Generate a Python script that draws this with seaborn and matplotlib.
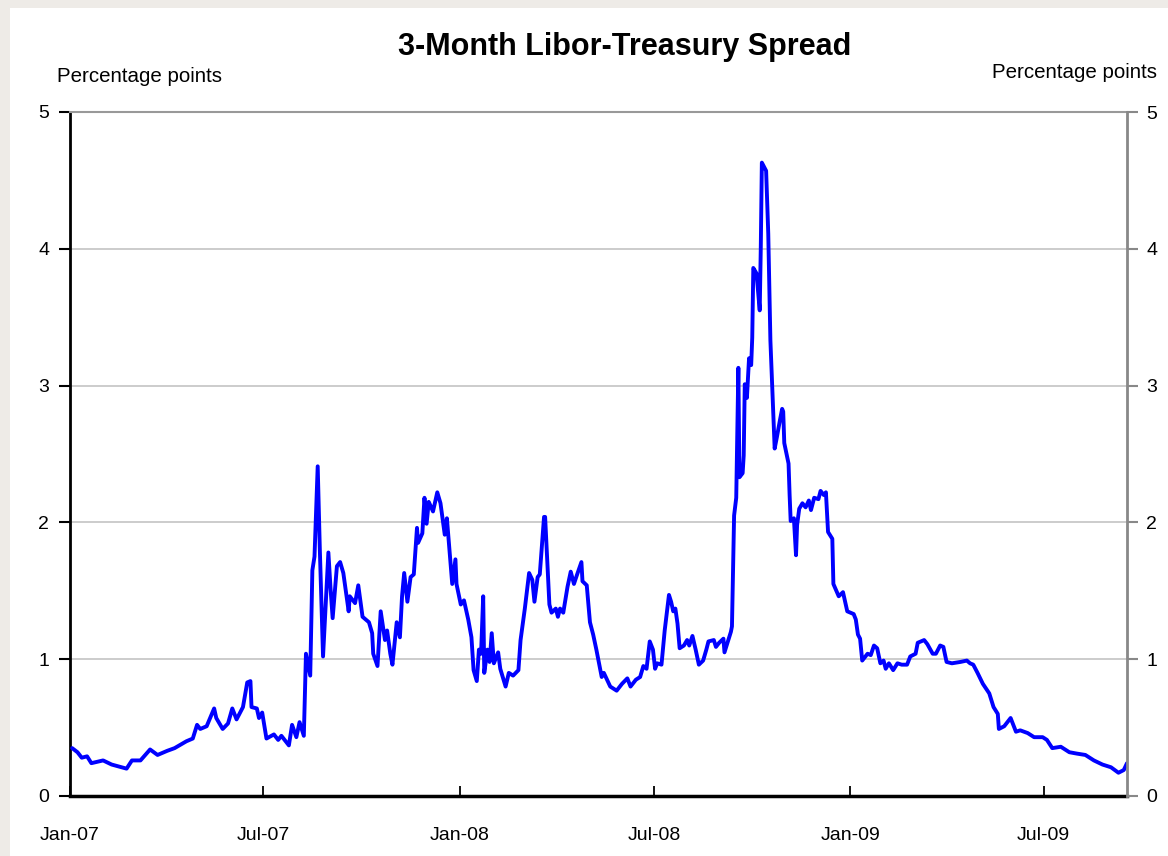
import pandas as pd
import numpy as np
import seaborn as sns
import matplotlib.pyplot as plt
import matplotlib.dates as mdates
from matplotlib.patches import Rectangle

# days after 1 Jan 2007 and the spread (percentage points)
days = [2, 7, 11, 16, 20, 31, 39, 53, 58, 66, 75, 82, 91, 98, 109, 115, 119, 122, 128, 135,
        137, 143, 148, 152, 156, 162, 166, 169, 170, 175, 177, 180, 184, 191, 195, 198, 205, 208, 212, 215,
        219, 221, 225, 227,
        229, 232, 234, 237, 242, 244, 246, 250, 253, 256, 261, 262, 267, 270, 274, 280, 283, 284, 288, 291,
        295, 297, 300, 302, 306, 309, 311, 313, 316, 319, 322, 325, 326, 330, 332, 334, 336, 340, 344, 347,
        351, 353, 358, 361, 362, 366, 369, 373, 376, 378, 381, 383, 385, 387, 388, 391, 393, 395, 397, 401,
        403, 408, 411, 415, 420, 422, 426, 430, 433, 435, 438, 440, 444, 445, 449,
        451, 455, 457, 459, 462, 466, 469, 472, 475, 479, 480, 484, 487, 490, 493, 496, 498, 500, 506, 512,
        517, 522, 525, 530, 534, 537, 540, 543, 546, 548, 550, 554, 557, 561, 563, 565, 567, 569, 571, 575,
        578, 580, 583, 586, 589, 593, 596, 598, 603, 605, 608, 612, 613, 615, 619, 620, 622, 624, 626, 627,
        630, 631, 632, 634, 636, 638, 639, 640, 643, 646, 647, 648, 652, 653, 654, 656, 659, 660, 662, 665,
        667, 668, 669, 673, 674, 675, 678, 680, 681, 683, 686, 689, 692, 694, 697, 701, 703, 706, 708, 710,
        714, 715, 720, 724, 728, 734, 736, 738, 740, 742, 747, 750, 753, 756, 759, 762, 764, 767, 771, 775,
        779, 784, 787, 792, 794, 800, 803, 808, 811, 815, 818, 821, 826, 834, 840, 843, 846, 850, 855, 861,
        865, 869, 870, 875, 881, 886, 890, 897, 903, 911, 915, 920, 928, 936, 943, 951, 959, 967, 975, 982,
        987, 990]

spread = [0.35, 0.32, 0.28, 0.29, 0.24, 0.26, 0.23, 0.20, 0.26, 0.26, 0.34, 0.30, 0.33, 0.35, 0.40, 0.42, 0.52, 0.49, 0.51, 0.64,
          0.57, 0.49, 0.53, 0.64, 0.56, 0.65, 0.83, 0.84, 0.65, 0.64, 0.57, 0.61, 0.42, 0.45, 0.41, 0.44, 0.37, 0.52, 0.43, 0.54,
          0.44, 1.04, 0.88, 1.65,
          1.75, 2.41, 1.80, 1.02, 1.78, 1.52, 1.30, 1.68, 1.71, 1.63, 1.35, 1.46, 1.41, 1.54, 1.31, 1.27, 1.19, 1.04, 0.95, 1.35,
          1.14, 1.21, 1.04, 0.96, 1.27, 1.16, 1.46, 1.63, 1.42, 1.60, 1.62, 1.96, 1.85, 1.92, 2.18, 1.99, 2.15, 2.08, 2.22, 2.14,
          1.91, 2.03, 1.55, 1.73, 1.55, 1.40, 1.43, 1.29, 1.16, 0.92, 0.84, 1.07, 1.04, 1.46, 0.90, 1.07, 0.98, 1.19, 0.97, 1.05,
          0.93, 0.80, 0.90, 0.88, 0.92, 1.14, 1.37, 1.63, 1.58, 1.42, 1.60, 1.62, 2.04, 2.04, 1.40,
          1.34, 1.37, 1.31, 1.37, 1.34, 1.53, 1.64, 1.55, 1.62, 1.71, 1.57, 1.54, 1.27, 1.18, 1.07, 0.95, 0.87, 0.90, 0.80, 0.77,
          0.82, 0.86, 0.80, 0.85, 0.87, 0.95, 0.93, 1.13, 1.07, 0.93, 0.97, 0.96, 1.21, 1.47, 1.42, 1.35, 1.37, 1.26, 1.08, 1.10,
          1.14, 1.10, 1.17, 1.07, 0.96, 0.99, 1.07, 1.13, 1.14, 1.09, 1.12, 1.15, 1.05, 1.10, 1.20, 1.24, 2.05, 2.18, 3.13, 2.33,
          2.36, 2.49, 3.01, 2.91, 3.20, 3.15, 3.35, 3.86, 3.82, 3.55, 4.01, 4.63, 4.57, 4.33, 4.11, 3.33, 2.75, 2.54, 2.62, 2.75,
          2.83, 2.81, 2.58, 2.43, 2.20, 2.01, 2.03, 1.76, 1.98, 2.10, 2.14, 2.11, 2.16, 2.09, 2.18, 2.17, 2.23, 2.20, 2.22, 1.93,
          1.88, 1.55, 1.46, 1.49, 1.35, 1.33, 1.29, 1.18, 1.15, 0.99, 1.04, 1.03, 1.10, 1.08, 0.97, 0.99, 0.93, 0.97, 0.92, 0.97,
          0.96, 0.96, 1.02, 1.04, 1.12, 1.14, 1.11, 1.04, 1.04, 1.10, 1.09, 0.98, 0.97, 0.98, 0.99, 0.97, 0.96, 0.90, 0.82, 0.75,
          0.65, 0.60, 0.49, 0.51, 0.57, 0.47, 0.48, 0.46, 0.43, 0.43, 0.41, 0.35, 0.36, 0.32, 0.31, 0.30, 0.26, 0.23, 0.21, 0.17,
          0.19, 0.24]

yticks = [0, 1, 2, 3, 4, 5]

start = pd.Timestamp("2007-01-01")
df = pd.DataFrame({"date": start + pd.to_timedelta(days, unit="D"), "spread": spread})

sns.set_style("white")
plt.rcParams['font.family'] = ['Liberation Sans', 'DejaVu Sans']
plt.rcParams['text.color'] = "black"
plt.rcParams['xtick.color'] = "black"
plt.rcParams['ytick.color'] = "black"

fig = plt.figure(figsize=(11.68, 8.56), dpi=100)
fig.patch.set_facecolor("#eeebe7")
# white card with the grey frame showing on the left and top
fig.add_artist(Rectangle((10 / 1168, 0), 1, 1 - 8 / 856, transform=fig.transFigure,
                         facecolor="white", edgecolor="none", zorder=-1))

ax = fig.add_axes([70 / 1168, 1 - 796 / 856, 1057 / 1168, 684 / 856])
ax.set_facecolor("none")

sns.lineplot(data=df, x="date", y="spread", color="#0000ff", linewidth=2.8,
             estimator=None, sort=False, ax=ax, zorder=3)

ax.set_xlim(start, start + pd.Timedelta(days=990))
ax.set_ylim(0, 5)
ax.set_yticks(yticks)
ax.set_xlabel("")
ax.set_ylabel("")
ax.yaxis.grid(True, color="#c8c8c8", linewidth=1.3)
ax.xaxis.grid(False)

ax.xaxis.set_major_locator(mdates.MonthLocator(bymonth=[1, 7]))
ax.xaxis.set_major_formatter(mdates.DateFormatter("%b-%y"))

ax.spines["left"].set_color("black")
ax.spines["left"].set_linewidth(2)
ax.spines["bottom"].set_color("black")
ax.spines["bottom"].set_linewidth(2.5)
ax.spines["top"].set_color("#999999")
ax.spines["top"].set_linewidth(1.5)
ax.spines["right"].set_visible(False)

ax.tick_params(axis="y", direction="out", length=8, width=1.5, color="black",
               labelcolor="black", labelsize=14, pad=7, left=True)
ax.tick_params(axis="x", direction="in", length=7, width=1.3, color="black",
               labelcolor="black", labelsize=14, pad=22, bottom=True)

# right hand scale
ax2 = ax.twinx()
ax2.set_ylim(0, 5)
ax2.set_yticks(yticks)
for s in ["left", "top", "bottom"]:
    ax2.spines[s].set_visible(False)
ax2.spines["right"].set_color("#888888")
ax2.spines["right"].set_linewidth(2)
ax2.tick_params(axis="y", direction="out", length=8, width=1.5, color="#888888",
                labelcolor="black", labelsize=14, pad=6, right=True)

fig.text(625 / 1168, 1 - 47 / 856, "3-Month Libor-Treasury Spread", ha="center", va="center",
         fontsize=22, fontweight="bold", color="black")
fig.text(57 / 1168, 1 - 76 / 856, "Percentage points", ha="left", va="center", fontsize=14.8, color="black")
fig.text(1157 / 1168, 1 - 72 / 856, "Percentage points", ha="right", va="center", fontsize=14.8, color="black")

fig.savefig("out.png", dpi=100)
